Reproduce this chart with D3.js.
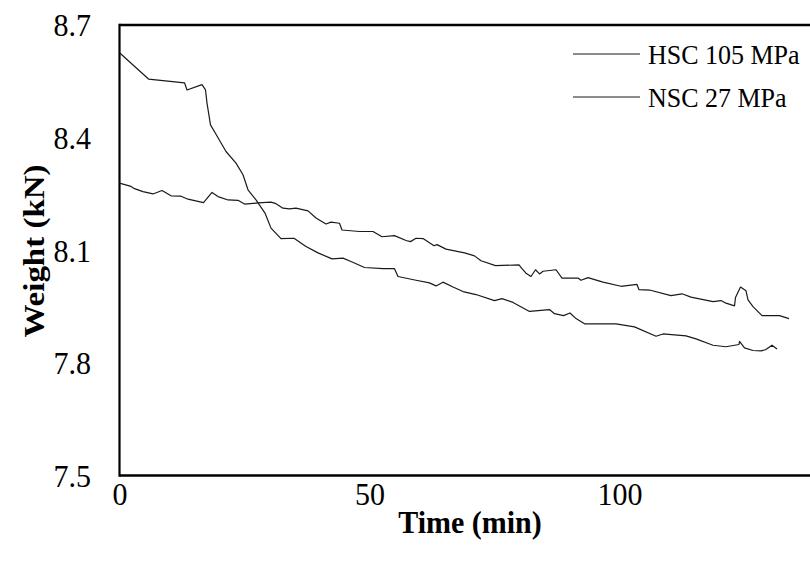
<!DOCTYPE html>
<html>
<head>
<meta charset="utf-8">
<script src="https://cdn.jsdelivr.net/npm/d3@7"></script>
<style>
  html, body { margin: 0; padding: 0; background: #fff; }
  svg { display: block; }
</style>
</head>
<body>
<svg id="chart" width="810" height="566"></svg>
<script>
// ---- Data ----
const seriesNames = ["HSC 105 MPa", "NSC 27 MPa"];

const hscTime = [0, 5.8, 13.0, 13.5, 16.5, 17.2, 17.5, 18.2, 19.3, 21.3, 23.3, 24.7, 25.7, 27.3, 29.1, 30.3, 32.3, 34.9, 37.3, 39.7, 42.5, 44.7, 46.3, 49.0, 52.7, 55.0, 55.7, 59.3, 62.0, 63.3, 64.7, 66.7, 68.7, 71.3, 75.0, 76.5, 78.7, 82.0, 86.0, 87.0, 88.8, 90.1, 91.3, 93.0, 99.3, 103.0, 107.3, 108.7, 113.3, 115.3, 118.7, 121.3, 123.9, 124.0, 125.0, 126.7, 128.3, 129.2, 130.5, 131.5];
const hscWeight = [8.626, 8.556, 8.546, 8.527, 8.541, 8.527, 8.492, 8.434, 8.409, 8.363, 8.332, 8.301, 8.261, 8.234, 8.199, 8.159, 8.131, 8.132, 8.110, 8.093, 8.077, 8.079, 8.070, 8.054, 8.051, 8.051, 8.030, 8.020, 8.013, 8.005, 8.015, 8.002, 7.990, 7.982, 7.966, 7.971, 7.961, 7.937, 7.942, 7.931, 7.926, 7.933, 7.918, 7.904, 7.904, 7.896, 7.871, 7.877, 7.872, 7.864, 7.847, 7.843, 7.849, 7.857, 7.840, 7.833, 7.832, 7.835, 7.847, 7.837];

const nscTime = [0, 2.3, 3.0, 4.7, 6.7, 8.5, 10.3, 12.3, 13.7, 16.8, 18.5, 19.7, 21.7, 23.7, 25.0, 27.7, 30.3, 31.3, 32.7, 34.0, 35.3, 37.7, 39.3, 41.3, 42.3, 44.0, 44.5, 48.0, 50.7, 52.5, 55.0, 57.3, 58.2, 59.3, 60.7, 62.9, 63.5, 65.3, 69.0, 71.0, 72.3, 75.2, 79.9, 80.5, 81.3, 82.3, 83.2, 84.0, 84.7, 87.3, 88.5, 91.7, 92.3, 93.7, 96.7, 100.3, 103.5, 103.9, 106.0, 110.3, 112.5, 114.3, 118.7, 120.3, 121.3, 123.0, 123.2, 124.2, 125.3, 125.7, 126.7, 128.5, 132.0, 133.9];
const nscWeight = [8.279, 8.270, 8.264, 8.256, 8.250, 8.259, 8.245, 8.244, 8.236, 8.227, 8.254, 8.243, 8.234, 8.233, 8.223, 8.226, 8.228, 8.224, 8.212, 8.210, 8.212, 8.205, 8.186, 8.170, 8.175, 8.172, 8.154, 8.150, 8.150, 8.136, 8.139, 8.126, 8.123, 8.132, 8.131, 8.112, 8.115, 8.103, 8.093, 8.085, 8.072, 8.059, 8.061, 8.051, 8.039, 8.030, 8.048, 8.037, 8.044, 8.048, 8.026, 8.026, 8.020, 8.027, 8.015, 8.004, 8.009, 7.995, 7.994, 7.979, 7.984, 7.975, 7.963, 7.966, 7.959, 7.952, 7.974, 8.002, 7.992, 7.968, 7.950, 7.926, 7.926, 7.918];

const xTicks = [0, 50, 100];
const yTicks = [7.5, 7.8, 8.1, 8.4, 8.7];
const xDomain = [0, 140];
const yDomain = [7.5, 8.7];

// ---- Layout ----
const FONT = '"Liberation Serif", "Times New Roman", Times, serif';
const svg = d3.select("#chart");
const pLeft = 119.5, pRight = 819.5, pTop = 25, pBottom = 475.5;

const x = d3.scaleLinear().domain(xDomain).range([pLeft, pRight]);
const y = d3.scaleLinear().domain(yDomain).range([pBottom, pTop]);

// Frame (top and bottom lines, left axis; right side cut off by the image edge)
svg.append("line").attr("x1", pLeft).attr("x2", pRight).attr("y1", pTop).attr("y2", pTop)
  .attr("stroke", "#000").attr("stroke-width", 2.5);
svg.append("line").attr("x1", pLeft).attr("x2", pRight).attr("y1", pBottom).attr("y2", pBottom)
  .attr("stroke", "#000").attr("stroke-width", 2.5);
svg.append("line").attr("x1", pLeft).attr("x2", pLeft).attr("y1", pTop - 1.25).attr("y2", pBottom + 1.25)
  .attr("stroke", "#000").attr("stroke-width", 2.2);

// Axes labels via d3 axes (no tick marks)
const xAxis = d3.axisBottom(x).tickValues(xTicks).tickSize(0).tickPadding(0).tickFormat(d3.format("d"));
const gx = svg.append("g").attr("transform", `translate(0,${pBottom})`).call(xAxis);
gx.select(".domain").remove();
gx.selectAll("text")
  .style("font-family", FONT).style("font-size", "30px").style("fill", "#000")
  .attr("dy", null).attr("y", 29.5 / 1.06).attr("transform", "scale(1,1.06)");

const yAxis = d3.axisLeft(y).tickValues(yTicks).tickSize(0).tickPadding(0).tickFormat(d3.format(".1f"));
const gy = svg.append("g").call(yAxis);
gy.select(".domain").remove();
gy.selectAll("text")
  .style("font-family", FONT).style("font-size", "30px").style("fill", "#000")
  .attr("x", 91).attr("dy", "0.34em").attr("transform", "scale(1,1.06)");

// Axis titles
svg.append("text").attr("transform", "translate(470,533) scale(1,1.06)").attr("text-anchor", "middle")
  .style("font-family", FONT).style("font-size", "30px").style("font-weight", "bold").style("fill", "#000")
  .text("Time (min)");
svg.append("text").attr("transform", "translate(44,251) rotate(-90) scale(1.1,1)").attr("text-anchor", "middle")
  .style("font-family", FONT).style("font-size", "30px").style("font-weight", "bold").style("fill", "#000")
  .text("Weight (kN)");

// Lines
const line = d3.line().x(d => x(d[0])).y(d => y(d[1]));
const series = [
  { name: seriesNames[0], pts: hscTime.map((t, i) => [t, hscWeight[i]]) },
  { name: seriesNames[1], pts: nscTime.map((t, i) => [t, nscWeight[i]]) }
];
svg.append("g").selectAll("path").data(series).join("path")
  .attr("d", d => line(d.pts))
  .attr("fill", "none").attr("stroke", "#1a1a1a").attr("stroke-width", 1.2)
  .attr("stroke-linejoin", "round");

// Legend
const legend = svg.append("g");
series.forEach((s, i) => {
  const ly = 54 + i * 43;
  legend.append("line").attr("x1", 573).attr("x2", 640).attr("y1", ly).attr("y2", ly)
    .attr("stroke", "#1a1a1a").attr("stroke-width", 1.2);
  legend.append("text").attr("transform", `translate(648,${ly}) scale(1,1.05)`).attr("dy", "0.35em")
    .style("font-family", FONT).style("font-size", "26px").style("fill", "#000")
    .text(s.name);
});
</script>
</body>
</html>
